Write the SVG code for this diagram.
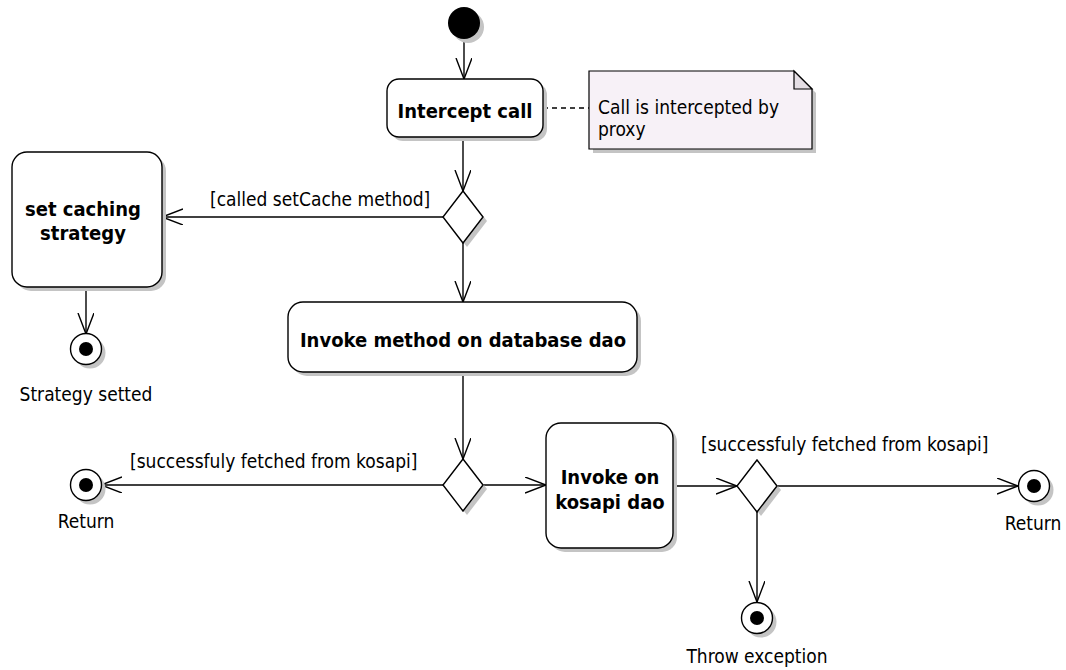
<svg xmlns="http://www.w3.org/2000/svg" width="1066" height="670" viewBox="0 0 1066 670">
<defs>
<style>
.t{font-family:'DejaVu Sans Condensed','DejaVu Sans',sans-serif;font-stretch:condensed;font-size:19px;fill:#000}
.b{font-weight:bold;font-size:20px}
.m{text-anchor:middle}
.box{fill:#fff;stroke:#000;stroke-width:1.4}
.sh{fill:#c4c4c4}
.ln{fill:none;stroke:#000;stroke-width:1.4}
</style>
<marker id="arr" markerWidth="24" markerHeight="18" refX="21" refY="8" orient="auto" markerUnits="userSpaceOnUse">
<path d="M0,0 L21,8 L0,16" fill="none" stroke="#000" stroke-width="1.4"/>
</marker>
</defs>
<rect width="1066" height="670" fill="#fff"/>

<g id="connectors">
<line class="ln" x1="464" y1="39" x2="464" y2="79" marker-end="url(#arr)"/>
<line class="ln" x1="463" y1="137" x2="463" y2="191" marker-end="url(#arr)"/>
<line class="ln" x1="443" y1="217" x2="162" y2="217" marker-end="url(#arr)"/>
<line class="ln" x1="463" y1="243" x2="463" y2="302" marker-end="url(#arr)"/>
<line class="ln" x1="86" y1="287" x2="86" y2="334" marker-end="url(#arr)"/>
<line class="ln" x1="463" y1="372" x2="463" y2="459" marker-end="url(#arr)"/>
<line class="ln" x1="443" y1="485" x2="101" y2="485" marker-end="url(#arr)"/>
<line class="ln" x1="483" y1="485" x2="546" y2="485" marker-end="url(#arr)"/>
<line class="ln" x1="673" y1="486" x2="737" y2="486" marker-end="url(#arr)"/>
<line class="ln" x1="777" y1="486" x2="1018" y2="486" marker-end="url(#arr)"/>
<line class="ln" x1="757" y1="512" x2="757" y2="602" marker-end="url(#arr)"/>
<line class="ln" x1="543" y1="108" x2="589" y2="108" stroke-dasharray="5,4"/>
<text class="t" x="210" y="206">[called setCache method]</text>
<text class="t" x="130" y="468">[successfuly fetched from kosapi]</text>
<text class="t" x="701" y="451">[successfuly fetched from kosapi]</text>
</g>

<g id="start">
<circle class="sh" cx="468" cy="27" r="16"/>
<circle cx="464" cy="23" r="16" fill="#000"/>
</g>

<g id="intercept">
<rect class="sh" x="391" y="83" width="156" height="58" rx="12"/>
<rect class="box" x="387" y="79" width="156" height="58" rx="12"/>
<text class="t b m" x="465" y="118">Intercept call</text>
</g>

<g id="note">
<path class="sh" d="M593,75 H798 L816,93 V153 H593 Z"/>
<path d="M589,71 H794 L812,89 V149 H589 Z" fill="#f7f1f7" stroke="#000" stroke-width="1.2"/>
<path d="M794,71 V89 H812 Z" fill="#e4dee4" stroke="#000" stroke-width="1.2"/>
<text class="t" x="598" y="114">Call is intercepted by</text>
<text class="t" x="598" y="136">proxy</text>
</g>

<g id="decision1">
<path class="sh" d="M467,195 L487,221 L467,247 L447,221 Z"/>
<path class="box" d="M463,191 L483,217 L463,243 L443,217 Z"/>
</g>

<g id="setcache">
<rect class="sh" x="16" y="156" width="150" height="135" rx="15"/>
<rect class="box" x="12" y="152" width="150" height="135" rx="15"/>
<text class="t b m" x="83" y="216">set caching</text>
<text class="t b m" x="83" y="240">strategy</text>
</g>

<g id="final-strategy">
<circle class="sh" cx="90" cy="353" r="15.5"/>
<circle class="box" cx="86" cy="349" r="15.5"/>
<circle cx="86" cy="349" r="7" fill="#000"/>
<text class="t m" x="86" y="401">Strategy setted</text>
</g>

<g id="invoke-db">
<rect class="sh" x="292" y="306" width="349" height="70" rx="15"/>
<rect class="box" x="288" y="302" width="349" height="70" rx="15"/>
<text class="t b m" x="463" y="347">Invoke method on database dao</text>
</g>

<g id="decision2">
<path class="sh" d="M467,463 L487,489 L467,515 L447,489 Z"/>
<path class="box" d="M463,459 L483,485 L463,511 L443,485 Z"/>
</g>

<g id="final-return-left">
<circle class="sh" cx="90" cy="489" r="15.5"/>
<circle class="box" cx="86" cy="485" r="15.5"/>
<circle cx="86" cy="485" r="7" fill="#000"/>
<text class="t m" x="86" y="528">Return</text>
</g>

<g id="invoke-kosapi">
<rect class="sh" x="550" y="427" width="127" height="125" rx="15"/>
<rect class="box" x="546" y="423" width="127" height="125" rx="15"/>
<text class="t b m" x="610" y="484">Invoke on</text>
<text class="t b m" x="610" y="509">kosapi dao</text>
</g>

<g id="decision3">
<path class="sh" d="M761,464 L781,490 L761,516 L741,490 Z"/>
<path class="box" d="M757,460 L777,486 L757,512 L737,486 Z"/>
</g>

<g id="final-return-right">
<circle class="sh" cx="1038" cy="490" r="15.5"/>
<circle class="box" cx="1034" cy="486" r="15.5"/>
<circle cx="1034" cy="486" r="7" fill="#000"/>
<text class="t m" x="1033" y="530">Return</text>
</g>

<g id="final-throw">
<circle class="sh" cx="761" cy="622" r="15.5"/>
<circle class="box" cx="757" cy="618" r="15.5"/>
<circle cx="757" cy="618" r="7" fill="#000"/>
<text class="t m" x="757" y="663">Throw exception</text>
</g>
</svg>
